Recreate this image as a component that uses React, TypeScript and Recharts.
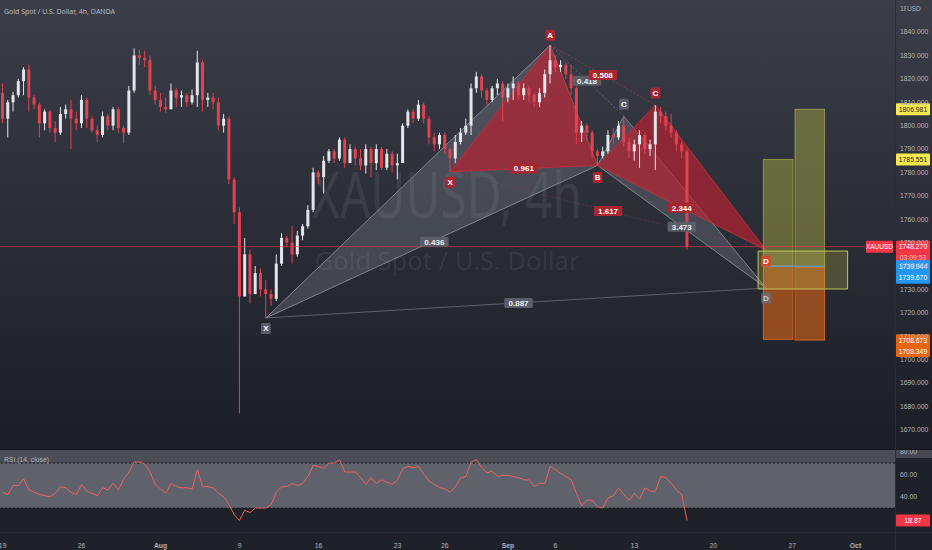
import {
  ComposedChart,
  Bar,
  Area,
  Line,
  XAxis,
  YAxis,
  ReferenceArea,
  ReferenceLine,
  ReferenceDot,
} from "recharts";

// 8h slots (3 per trading day) starting Mon 19 Jul; the axis runs past the last bar to leave room for the projection
const SLOT_COUNT = 170;
const FIRST_OPEN = 1814;

const closes = [
  1803, 1810, 1813, 1819, 1824, 1812, 1809, 1801, 1806, 1799,
  1797, 1805, 1807, 1803, 1801, 1811, 1803, 1798, 1796, 1804,
  1800, 1807, 1799, 1797, 1815, 1830, 1829, 1828, 1815, 1811,
  1808, 1807, 1815, 1812, 1813, 1810, 1813, 1827, 1811, 1812,
  1810, 1800, 1803, 1777, 1763, 1727, 1745, 1728, 1737, 1730,
  1728, 1726, 1741, 1752, 1750, 1745, 1753, 1757, 1764, 1780,
  1778, 1785, 1789, 1786, 1794, 1784, 1790, 1786, 1783, 1790,
  1784, 1790, 1782, 1788, 1783, 1784, 1800, 1806, 1803, 1809,
  1803, 1795, 1792, 1796, 1790, 1786, 1793, 1797, 1800, 1816,
  1821, 1815, 1811, 1816, 1818, 1812, 1816, 1818, 1813, 1816,
  1813, 1810, 1814, 1822, 1828, 1825, 1826, 1822, 1816, 1797,
  1800, 1797, 1789, 1787, 1789, 1796, 1795, 1800, 1793, 1789,
  1792, 1796, 1790, 1792, 1806, 1804, 1800, 1797, 1792, 1789,
  1748.27,
];

const highs = [
  1818, 1811, 1814.5, 1820, 1825, 1826, 1813, 1810, 1807, 1806.5,
  1802, 1808, 1809, 1811, 1806, 1813, 1812, 1804, 1800, 1806,
  1805, 1808, 1808, 1800, 1817, 1833, 1832.5, 1832, 1830, 1817,
  1814, 1812, 1818, 1816, 1815, 1814, 1815.5, 1832, 1828, 1814,
  1814, 1812, 1805, 1804, 1778, 1765, 1752, 1747, 1740, 1739,
  1734, 1730, 1745, 1754, 1753, 1757, 1755, 1758, 1766, 1782,
  1781, 1787, 1790, 1790, 1795, 1795, 1792, 1791, 1790, 1792,
  1791, 1792, 1791, 1790, 1789, 1788, 1801, 1807, 1807, 1811,
  1810, 1804, 1797, 1797, 1797, 1791, 1796, 1799, 1803, 1818,
  1823, 1822, 1816, 1817, 1820, 1819, 1818, 1821, 1819, 1818,
  1817, 1814, 1816, 1824, 1834.4, 1830, 1828, 1827, 1826, 1817,
  1802, 1801, 1798, 1790, 1791, 1798, 1799, 1802, 1804, 1795,
  1794, 1798, 1797, 1794, 1808.8, 1808, 1806, 1805, 1798, 1793,
  1790,
];

const lows = [
  1801, 1795, 1806, 1812, 1813, 1806, 1807, 1795, 1798, 1797,
  1793, 1796, 1803, 1790, 1798, 1799, 1799, 1797, 1793, 1795,
  1798, 1798, 1797, 1792.5, 1796, 1814, 1826, 1825, 1813, 1809,
  1806, 1805.5, 1807, 1808, 1808, 1808, 1809, 1808, 1806, 1808,
  1807, 1798, 1797, 1775, 1758, 1677, 1727, 1724, 1728, 1727,
  1717.8, 1723, 1725, 1740, 1748, 1741, 1744, 1751, 1756, 1763,
  1775, 1771, 1784, 1784, 1785, 1782, 1784, 1783, 1781, 1779.5,
  1778, 1781, 1781, 1781, 1780, 1777, 1784, 1799, 1801, 1802,
  1801, 1792, 1789, 1790, 1788, 1780.3, 1784, 1792, 1796, 1796,
  1814, 1812, 1809, 1810, 1813, 1802, 1810, 1811, 1811, 1811,
  1810, 1808, 1808, 1812, 1818, 1823, 1823, 1820, 1813, 1792,
  1793, 1794, 1786, 1783, 1786, 1788, 1792, 1794, 1791, 1786,
  1785, 1782, 1788, 1787, 1781, 1801, 1798, 1795, 1789, 1786,
  1747,
];

const rsi = [
  44, 42, 50, 50, 56, 46, 44, 42, 41, 40,
  43, 49, 48, 44, 42, 51, 45, 43, 41, 48,
  46, 52, 46, 56, 62, 71, 71, 69, 62, 51,
  47, 43, 52, 49, 48, 48, 47, 64, 49, 49,
  48, 43, 40, 33, 24, 19, 28, 26, 30, 30,
  30, 33, 44, 49, 49, 52, 50, 52, 58, 68,
  67, 65, 70, 70, 73, 62, 62, 62, 57, 51,
  57, 52, 55, 53, 51, 55, 65, 67, 66, 67,
  60, 54, 51, 48, 47, 44, 49, 57, 58, 71,
  73, 66, 61, 63, 58, 59, 59, 58, 57, 55,
  55, 49, 52, 52, 67, 64, 61, 58, 55, 43,
  32, 37, 37, 31, 30, 39, 41, 48, 42, 37,
  43, 38, 48, 45, 45, 58, 57, 52, 46, 42,
  18.87,
];

const dateTickSlots = [0, 15, 30, 45, 60, 75, 84, 96, 105, 120, 135, 150, 162];
const dateTickLabels = ["19", "26", "Aug", "9", "16", "23", "26", "Sep", "6", "13", "20", "27", "Oct"];
const monthLabels = ["Aug", "Sep", "Oct"];

const priceTicks = [1670, 1680, 1690, 1700, 1710, 1720, 1730, 1740, 1750, 1760, 1770, 1780, 1790, 1800, 1810, 1820, 1830, 1840, 1850];
const rsiTicks = [40, 60, 80];

// XABCD pivots (slot, price)
const pivotNames = ["X", "A", "B", "C", "D"];
const redSlots = [85, 104, 113, 124, 145];
const redPrices = [1780.3, 1834.4, 1783, 1808.8, 1746.8];
const graySlots = [50, 104, 113, 118, 145];
const grayPrices = [1717.8, 1834.4, 1783, 1804, 1730.6];
const pivotOffsets = [10.5, -10, 12, -12, 11];

// ratio legs: XB, AC, XD, BD
const legPairs: [number, number][] = [[0, 2], [1, 3], [0, 4], [2, 4]];
const redRatios = ["0.961", "0.508", "1.617", "2.344"];
const grayRatios = ["0.436", "0.418", "0.887", "3.473"];

// projection columns: [slotFrom, slotTo], top, split, bottom
const przSlots: [number, number][] = [[145, 150], [151, 156]];
const przTops = [1785.551, 1806.981];
const przSplits = [1739.944, 1739.67];
const przBottoms = [1708.673, 1708.349];
const dZone = { from: 144, to: 160, low: 1730.2, high: 1746.4 };

const LAST_PRICE = 1748.27;
const LAST_RSI = 18.87;
const PRICE_MIN = 1661.8;
const PRICE_MAX = 1853.7;
const RSI_MIN = 8.7;
const RSI_MAX = 81.6;

const UP = "#e4e5ea";
const DOWN = "#e0434f";
const RED_FILL = "rgba(186,34,50,0.68)";
const RED_EDGE = "#b8303d";
const GRAY_FILL = "rgba(160,165,180,0.24)";
const GRAY_EDGE = "#80848f";
const AXIS_TEXT = "#b2b5be";
const FONT = "'Liberation Sans', Arial, sans-serif";

type Row = Record<string, any>;
const table: Row[] = Array.from({ length: SLOT_COUNT }, (_, i) => ({ slot: i }));
closes.forEach((c, i) => {
  table[i].o = i === 0 ? FIRST_OPEN : closes[i - 1];
  table[i].c = c;
  table[i].hl = [lows[i], highs[i]];
  table[i].rsi = rsi[i];
});

function addTriangle(key: string, ids: number[], slots: number[], prices: number[]) {
  const [a, b, c] = ids.map((k) => ({ s: slots[k], p: prices[k] }));
  const base = a.p + ((c.p - a.p) * (b.s - a.s)) / (c.s - a.s);
  table[a.s][key] = [a.p, a.p];
  table[b.s][key] = [base, b.p];
  table[c.s][key] = [c.p, c.p];
}

function addLeg(key: string, i: number, j: number, slots: number[], prices: number[]) {
  table[slots[i]][key] = prices[i];
  table[slots[j]][key] = prices[j];
}

addTriangle("gXAB", [0, 1, 2], graySlots, grayPrices);
addTriangle("gBCD", [2, 3, 4], graySlots, grayPrices);
addTriangle("rXAB", [0, 1, 2], redSlots, redPrices);
addTriangle("rBCD", [2, 3, 4], redSlots, redPrices);
addLeg("gAC", 1, 3, graySlots, grayPrices);
addLeg("gXD", 0, 4, graySlots, grayPrices);
addLeg("rAC", 1, 3, redSlots, redPrices);
addLeg("rXD", 0, 4, redSlots, redPrices);

function Candle(props: any) {
  const { x, y, width, height, payload } = props;
  if (!payload || payload.o == null) return null;
  const [lo, hi] = payload.hl;
  const top = Math.min(y, y + height);
  const bot = Math.max(y, y + height);
  const k = (bot - top) / (hi - lo);
  const py = (v: number) => top + (hi - v) * k;
  const up = payload.c >= payload.o;
  const color = up ? UP : DOWN;
  const cx = x + width / 2;
  const bTop = py(Math.max(payload.o, payload.c));
  const bBot = py(Math.min(payload.o, payload.c));
  return (
    <g>
      <line x1={cx} x2={cx} y1={top} y2={bot} stroke={color} strokeWidth={1} />
      <rect x={x} y={bTop} width={width} height={Math.max(1, bBot - bTop)} fill={color} />
    </g>
  );
}

function boxTag(text: string, bg: string, fg: string, dy = 0, h = 10) {
  return (p: any) => {
    const w = text.length * 4.7 + 5;
    const cy = p.cy + dy;
    return (
      <g>
        <rect x={p.cx - w / 2} y={cy - h / 2} width={w} height={h} rx={1.5} fill={bg} />
        <text x={p.cx} y={cy + 2.9} textAnchor="middle" fontSize={8} fontWeight={700} fill={fg} fontFamily={FONT}>
          {text}
        </text>
      </g>
    );
  };
}

function axisTag(text: string, bg: string, fg: string, shift = 0, sub?: string) {
  return (props: any) => {
    const { x, y, width } = props.viewBox;
    const left = x + width + 1;
    const top = y + shift - 6;
    const h = sub ? 23 : 12;
    return (
      <g>
        <rect x={left} y={top} width={34} height={h} rx={1} fill={bg} />
        <text x={left + 17} y={top + 8.6} textAnchor="middle" fontSize={6.8} fill={fg} fontFamily={FONT}>
          {text}
        </text>
        {sub && (
          <text x={left + 17} y={top + 19.6} textAnchor="middle" fontSize={6.8} fill="#f7c3c6" fontFamily={FONT}>
            {sub}
          </text>
        )}
      </g>
    );
  };
}

function lastPriceTag(props: any) {
  const { x, y, width } = props.viewBox;
  const right = x + width;
  return (
    <g>
      <rect x={right - 29} y={y - 6} width={27} height={12} rx={1} fill="#f23645" />
      <text x={right - 15.5} y={y + 2.6} textAnchor="middle" fontSize={6.5} fill="#fff" fontFamily={FONT}>
        XAUUSD
      </text>
      {axisTag(LAST_PRICE.toFixed(3), "#f23645", "#fff", 0, "03:09:53")(props)}
    </g>
  );
}

function DateTick(props: any) {
  const idx = dateTickSlots.indexOf(props.payload.value);
  if (idx < 0) return null;
  const label = dateTickLabels[idx];
  return (
    <text
      x={props.x}
      y={props.y + 8}
      textAnchor="middle"
      fontSize={6.8}
      fontWeight={monthLabels.includes(label) ? 700 : 400}
      fill={AXIS_TEXT}
      fontFamily={FONT}
    >
      {label}
    </text>
  );
}

const mid = (slots: number[], prices: number[], [i, j]: [number, number]) => ({
  x: Math.round((slots[i] + slots[j]) / 2),
  y: (prices[i] + prices[j]) / 2,
});

const colShape = (fill: string, stroke: string) => (p: any) => (
  <rect x={p.x} y={p.y} width={p.width - 2} height={p.height} fill={fill} stroke={stroke} strokeWidth={1} />
);

export default function App() {
  return (
    <div
      style={{
        position: "fixed",
        left: 0,
        top: 0,
        width: 932,
        height: 550,
        overflow: "hidden",
        background: "#1e2028",
        fontFamily: FONT,
      }}
    >
      {/* main pane background */}
      <div
        style={{
          position: "absolute",
          left: 0,
          top: 0,
          width: 932,
          height: 449,
          background: "linear-gradient(180deg, #3b3e48 0%, #2c2f38 45%, #1c1e26 100%)",
        }}
      />
      {/* symbol watermark */}
      <svg width={895} height={449} style={{ position: "absolute", left: 0, top: 0 }}>
        <text
          x={447}
          y={218}
          textAnchor="middle"
          fontSize={64}
          fill="rgba(255,255,255,0.07)"
          fontFamily="'Noto Sans', sans-serif"
          textLength={270}
          lengthAdjust="spacingAndGlyphs"
        >
          XAUUSD, 4h
        </text>
        <text
          x={447}
          y={270}
          textAnchor="middle"
          fontSize={26}
          fill="rgba(255,255,255,0.07)"
          fontFamily="'Noto Sans', sans-serif"
          textLength={265}
          lengthAdjust="spacingAndGlyphs"
        >
          Gold Spot / U.S. Dollar
        </text>
      </svg>

      <div style={{ position: "absolute", left: 0, top: 0 }}>
        <ComposedChart width={932} height={449} data={table} margin={{ top: 0, right: 0, bottom: 0, left: 0 }}>
          <XAxis dataKey="slot" type="category" scale="band" hide />
          <YAxis
            orientation="right"
            width={37}
            type="number"
            domain={[PRICE_MIN, PRICE_MAX]}
            allowDataOverflow
            ticks={priceTicks}
            interval={0}
            tickFormatter={(v: number) => v.toFixed(3)}
            tick={{ fontSize: 6.8, fill: AXIS_TEXT, fontFamily: FONT }}
            tickLine={false}
            axisLine={false}
            tickSize={3}
            tickMargin={2}
          />
          <ReferenceLine y={LAST_PRICE} stroke="rgba(242,54,69,0.55)" strokeWidth={1} />

          <Area type="linear" dataKey="gXAB" connectNulls stroke={GRAY_EDGE} strokeWidth={1} fill={GRAY_FILL} fillOpacity={1} isAnimationActive={false} activeDot={false} />
          <Area type="linear" dataKey="gBCD" connectNulls stroke={GRAY_EDGE} strokeWidth={1} fill={GRAY_FILL} fillOpacity={1} isAnimationActive={false} activeDot={false} />
          <Line type="linear" dataKey="gXD" connectNulls stroke="rgba(150,155,170,0.5)" strokeWidth={1} dot={false} activeDot={false} isAnimationActive={false} />
          <Line type="linear" dataKey="gAC" connectNulls stroke="rgba(150,155,170,0.45)" strokeDasharray="2 2" strokeWidth={1} dot={false} activeDot={false} isAnimationActive={false} />
          <Area type="linear" dataKey="rXAB" connectNulls stroke={RED_EDGE} strokeWidth={1} fill={RED_FILL} fillOpacity={1} isAnimationActive={false} activeDot={false} />
          <Area type="linear" dataKey="rBCD" connectNulls stroke={RED_EDGE} strokeWidth={1} fill={RED_FILL} fillOpacity={1} isAnimationActive={false} activeDot={false} />
          <Line type="linear" dataKey="rAC" connectNulls stroke="rgba(205,60,72,0.5)" strokeDasharray="2 2" strokeWidth={1} dot={false} activeDot={false} isAnimationActive={false} />
          <Line type="linear" dataKey="rXD" connectNulls stroke="rgba(205,60,72,0.28)" strokeDasharray="2 2" strokeWidth={1} dot={false} activeDot={false} isAnimationActive={false} />

          {przSlots.map(([a, b], i) => (
            <ReferenceArea
              key={`py${i}`}
              x1={a}
              x2={b}
              y1={przSplits[i]}
              y2={przTops[i]}
              shape={colShape("rgba(196,196,70,0.38)", "rgba(200,200,80,0.55)")}
            />
          ))}
          {przSlots.map(([a, b], i) => (
            <ReferenceArea
              key={`po${i}`}
              x1={a}
              x2={b}
              y1={przBottoms[i]}
              y2={przSplits[i]}
              shape={colShape("rgba(226,104,22,0.58)", "rgba(232,110,30,0.8)")}
            />
          ))}
          <ReferenceArea
            x1={dZone.from}
            x2={dZone.to}
            y1={dZone.low}
            y2={dZone.high}
            fill="rgba(214,214,80,0.22)"
            fillOpacity={1}
            stroke="#c4c65a"
            strokeWidth={1}
          />
          <ReferenceLine
            segment={[
              { x: przSlots[0][0], y: przSplits[0] },
              { x: przSlots[1][1], y: przSplits[0] },
            ]}
            stroke="#6f92b8"
            strokeWidth={1.5}
          />

          <Bar dataKey="hl" barSize={3} shape={Candle} isAnimationActive={false} />

          {legPairs.map((pair, i) => {
            const m = mid(graySlots, grayPrices, pair);
            return <ReferenceDot key={`gr${i}`} x={m.x} y={m.y} r={0} shape={boxTag(grayRatios[i], "#5b5e69", "#eceef3")} />;
          })}
          {legPairs.map((pair, i) => {
            const m = mid(redSlots, redPrices, pair);
            return <ReferenceDot key={`rr${i}`} x={m.x} y={m.y} r={0} shape={boxTag(redRatios[i], "#a9252f", "#ffffff")} />;
          })}
          {[0, 3, 4].map((k) => (
            <ReferenceDot
              key={`gp${k}`}
              x={graySlots[k]}
              y={grayPrices[k]}
              r={0}
              shape={boxTag(pivotNames[k], k === 4 ? "rgba(110,112,124,0.75)" : "#5a5d68", k === 4 ? "#c9cbd2" : "#ffffff", pivotOffsets[k] - (k === 4 ? 1 : 0), 11)}
            />
          ))}
          {pivotNames.map((n, k) => (
            <ReferenceDot
              key={`rp${k}`}
              x={redSlots[k]}
              y={redPrices[k]}
              r={0}
              shape={boxTag(n, k === 4 ? "#cf4a2c" : "#a9252f", "#ffffff", pivotOffsets[k], 11)}
            />
          ))}

          <ReferenceLine y={przTops[1]} stroke="none" label={axisTag(przTops[1].toFixed(3), "#f4ea4f", "#1f1f1f")} />
          <ReferenceLine y={przTops[0]} stroke="none" label={axisTag(przTops[0].toFixed(3), "#f4ea4f", "#1f1f1f")} />
          <ReferenceLine y={LAST_PRICE} stroke="none" label={lastPriceTag} />
          <ReferenceLine y={przSplits[0]} stroke="none" label={axisTag(przSplits[0].toFixed(3), "#2196f3", "#ffffff")} />
          <ReferenceLine y={przSplits[1]} stroke="none" label={axisTag(przSplits[1].toFixed(3), "#2196f3", "#ffffff", 11)} />
          <ReferenceLine y={przBottoms[0]} stroke="none" label={axisTag(przBottoms[0].toFixed(3), "#e8650f", "#ffffff", 1)} />
          <ReferenceLine y={przBottoms[1]} stroke="none" label={axisTag(przBottoms[1].toFixed(3), "#e8650f", "#ffffff", 11)} />
        </ComposedChart>
      </div>

      {/* pane separator and RSI pane backdrop */}
      <div style={{ position: "absolute", left: 0, top: 449, width: 932, height: 1, background: "#14161c" }} />
      <div style={{ position: "absolute", left: 0, top: 450, width: 932, height: 100, background: "#1f2129" }} />
      <div style={{ position: "absolute", left: 895, top: 450, width: 37, height: 8, background: "#464851" }} />

      <div style={{ position: "absolute", left: 0, top: 450 }}>
        <ComposedChart width={932} height={100} data={table} margin={{ top: 0, right: 0, bottom: 0, left: 0 }}>
          <XAxis
            dataKey="slot"
            type="category"
            scale="band"
            interval={0}
            tick={DateTick}
            tickLine={false}
            axisLine={false}
            height={18}
          />
          <YAxis
            orientation="right"
            width={37}
            type="number"
            domain={[RSI_MIN, RSI_MAX]}
            allowDataOverflow
            ticks={rsiTicks}
            interval={0}
            tickFormatter={(v: number) => v.toFixed(2)}
            tick={{ fontSize: 6.8, fill: AXIS_TEXT, fontFamily: FONT }}
            tickLine={false}
            axisLine={false}
            tickSize={3}
            tickMargin={2}
          />
          <ReferenceArea y1={70} y2={RSI_MAX} fill="#4a4c56" fillOpacity={1} />
          <ReferenceArea y1={30} y2={70} fill="#5f616b" fillOpacity={1} />
          <ReferenceLine y={70} stroke="#1c1d23" strokeDasharray="2 2" strokeWidth={1} />
          <ReferenceLine y={30} stroke="#1c1d23" strokeDasharray="2 2" strokeWidth={1} />
          <Bar dataKey="none" isAnimationActive={false} />
          <Line type="linear" dataKey="rsi" stroke="#f0605f" strokeWidth={1} dot={false} activeDot={false} isAnimationActive={false} />
          <ReferenceLine y={LAST_RSI} stroke="none" label={axisTag(LAST_RSI.toFixed(2), "#f23645", "#ffffff")} />
        </ComposedChart>
      </div>

      {/* axis separators */}
      <div style={{ position: "absolute", left: 895, top: 0, width: 1, height: 550, background: "#2b2d36" }} />
      <div style={{ position: "absolute", left: 0, top: 532, width: 932, height: 1, background: "#2b2d36" }} />

      {/* legend and currency label */}
      <svg width={200} height={20} style={{ position: "absolute", left: 0, top: 0 }}>
        <text x={4} y={13.5} fontSize={7.5} fill="#b8bbc4" fontFamily="'Noto Sans', sans-serif" textLength={111} lengthAdjust="spacingAndGlyphs">
          Gold Spot / U.S. Dollar, 4h, OANDA
        </text>
      </svg>
      <div
        style={{
          position: "absolute",
          left: 906,
          top: 3,
          width: 26,
          height: 11,
          background: "#3b3e48",
          color: AXIS_TEXT,
          fontSize: 6.5,
          lineHeight: "11px",
          paddingLeft: 1,
        }}
      >
        USD
      </div>
      <svg width={60} height={20} style={{ position: "absolute", left: 0, top: 454 }}>
        <text x={4} y={8} fontSize={6.8} fill="#b2b5be" fontFamily={FONT}>
          RSI (14, close)
        </text>
      </svg>
    </div>
  );
}
